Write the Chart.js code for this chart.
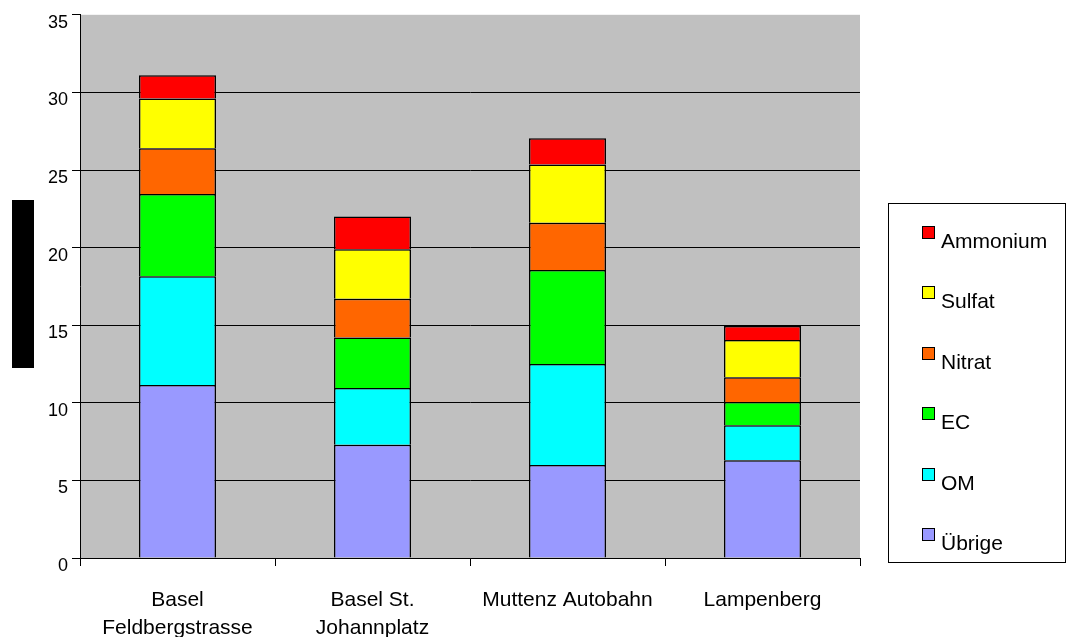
<!DOCTYPE html>
<html>
<head>
<meta charset="utf-8">
<script src="https://cdn.jsdelivr.net/npm/chart.js@4"></script>
<style>
  html, body { margin: 0; padding: 0; background: #fff; }
  #wrap { width: 1066px; height: 637px; }
</style>
</head>
<body>
<div id="wrap"><canvas id="chart"></canvas></div>
<script>
// Data
const stations = [['Basel', 'Feldbergstrasse'], ['Basel St.', 'Johannplatz'], 'Muttenz Autobahn', 'Lampenberg'];
const uebrige  = [11.15, 7.3, 6.0, 6.3];
const om       = [7.0, 3.65, 6.5, 2.25];
const ec       = [5.3, 3.25, 6.05, 1.5];
const nitrat   = [2.95, 2.5, 3.05, 1.6];
const sulfat   = [3.2, 3.2, 3.75, 2.4];
const ammonium = [1.5, 2.1, 1.7, 0.9];
const yTicks = [0, 5, 10, 15, 20, 25, 30, 35];

const FONT = '"Liberation Sans", Arial, sans-serif';

const series = [
    { label: 'Übrige', data: uebrige, color: '#9999ff' },
    { label: 'OM', data: om, color: '#00ffff' },
    { label: 'EC', data: ec, color: '#00ff00' },
    { label: 'Nitrat', data: nitrat, color: '#ff6600' },
    { label: 'Sulfat', data: sulfat, color: '#ffff00' },
    { label: 'Ammonium', data: ammonium, color: '#ff0000' }
];

// gray plot background, hidden axis title block, boxed legend
const decor = {
    id: 'decor',
    beforeDraw(chart) {
        const { ctx, chartArea } = chart;
        ctx.save();
        ctx.fillStyle = '#c0c0c0';
        ctx.fillRect(chartArea.left, chartArea.top, chartArea.right - chartArea.left, chartArea.bottom - chartArea.top);
        ctx.fillStyle = '#000';
        ctx.fillRect(12, 200, 22, 168);
        ctx.restore();
    },
    afterDraw(chart) {
        const ctx = chart.ctx;
        ctx.save();
        ctx.strokeStyle = '#000';
        ctx.lineWidth = 1;
        ctx.strokeRect(888.5, 203.5, 177, 359);
        ctx.font = '21px ' + FONT;
        ctx.textBaseline = 'alphabetic';
        const items = series.slice().reverse();
        items.forEach(function (s, i) {
            const top = Math.round(227 + i * 60.4);
            ctx.fillStyle = s.color;
            ctx.fillRect(923, top, 11, 11);
            ctx.strokeStyle = '#000';
            ctx.strokeRect(922.5, top - 0.5, 12, 12);
            ctx.fillStyle = '#000';
            ctx.fillText(s.label, 941, top + 21);
        });
        ctx.restore();
    }
};

new Chart(document.getElementById('chart'), {
    type: 'bar',
    data: {
        labels: stations,
        datasets: series.map(s => ({
            label: s.label,
            data: s.data,
            backgroundColor: s.color,
            borderColor: '#000',
            borderWidth: 1.5,
            categoryPercentage: 1,
            barPercentage: 0.395
        }))
    },
    options: {
        responsive: true,
        maintainAspectRatio: false,
        animation: false,
        layout: { padding: { top: 13, right: 206, left: 0, bottom: 0 } },
        plugins: { legend: { display: false }, tooltip: { enabled: false } },
        scales: {
            x: {
                stacked: true,
                afterFit(scale) { scale.height = 79; },
                grid: { offset: true, drawOnChartArea: false, tickLength: 8, color: '#000' },
                border: { color: '#000', width: 1 },
                ticks: { color: '#000', font: { family: FONT, size: 21, lineHeight: 1.3 }, padding: 21, maxRotation: 0, autoSkip: false }
            },
            y: {
                stacked: true,
                min: 0,
                max: 35,
                afterFit(scale) { scale.width = 80; },
                afterBuildTicks(scale) { scale.ticks = yTicks.map(v => ({ value: v })); },
                grid: {
                    tickLength: 8,
                    color: c => (c.tick && c.tick.value === 35) ? 'rgba(0,0,0,0)' : '#000',
                    tickColor: '#000'
                },
                border: { color: '#000', width: 1 },
                ticks: { color: '#000', font: { family: FONT, size: 18 }, padding: 4, labelOffset: 8 }
            }
        }
    },
    plugins: [decor]
});
</script>
</body>
</html>
